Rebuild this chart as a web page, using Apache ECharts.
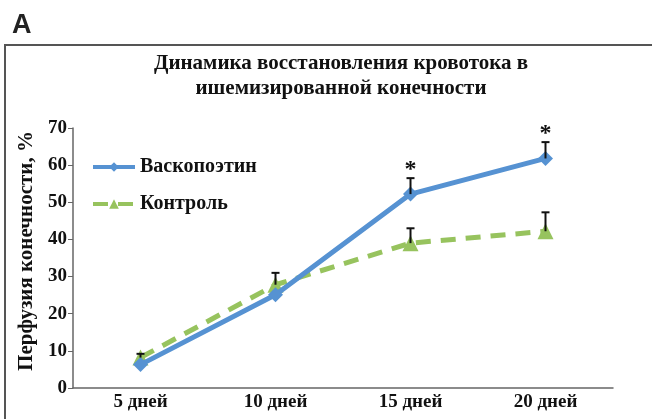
<!DOCTYPE html>
<html>
<head>
<meta charset="utf-8">
<script src="https://cdn.jsdelivr.net/npm/echarts@6/dist/echarts.min.js"></script>
<style>
    html, body { margin: 0; padding: 0; background: #fff; }
    #chart { width: 652px; height: 419px; }
</style>
</head>
<body>
<div id="chart"></div>
<script>
    const categories = ['5 дней', '10 дней', '15 дней', '20 дней'];
    const vasco = [6.3, 25.1, 52.2, 61.8];
    const control = [8.2, 27.8, 39.0, 42.2];
    // upper error only (0 = not drawn)
    const vascoErr = [0, 0, 4.3, 4.4];
    const controlErr = [1.0, 3.2, 4.0, 5.1];
    const vascoSig = [false, false, true, true];

    const SERIF = '"Liberation Serif", "DejaVu Serif", serif';
    const BLUE = '#5692d2';
    const GREEN = '#97c35e';

    // error bars as custom series: [index, value, err, star]
    function errData(vals, errs, sig) {
        return vals.map(function(v, i) {
            return [i, v, errs[i], sig && sig[i] ? 1 : 0];
        });
    }

    function renderErr(params, api) {
        const err = api.value(2);
        if (!err) return;
        const base = api.coord([api.value(0), api.value(1)]);
        const top = api.coord([api.value(0), api.value(1) + err]);
        const children = [
            {
                type: 'line',
                shape: { x1: base[0], y1: base[1], x2: top[0], y2: top[1] },
                style: { stroke: '#111', lineWidth: 2 }
            },
            {
                type: 'line',
                shape: { x1: top[0] - 4, y1: top[1], x2: top[0] + 4, y2: top[1] },
                style: { stroke: '#111', lineWidth: 2 }
            }
        ];
        if (api.value(3)) {
            children.push({
                type: 'text',
                style: {
                    text: '*', x: top[0], y: top[1] - 8,
                    textAlign: 'center', textVerticalAlign: 'middle',
                    font: 'bold 24px ' + SERIF, fill: '#111'
                }
            });
        }
        return { type: 'group', children: children };
    }

    const option = {
        animation: false,
        graphic: [
            {
                type: 'rect', silent: true,
                shape: { x: 5, y: 45, width: 680, height: 420 },
                style: { fill: 'none', stroke: '#555', lineWidth: 2 }
            },
            {
                type: 'text', left: 12, top: 12,
                style: { text: 'A', font: 'bold 27px "Liberation Sans", Arial, sans-serif', fill: '#222' }
            },
            {
                type: 'text', x: 341, y: 51,
                style: {
                    text: 'Динамика восстановления кровотока в\nишемизированной конечности',
                    textAlign: 'center', font: 'bold 21px ' + SERIF, lineHeight: 25, fill: '#111'
                }
            }
        ],
        grid: { left: 73, right: 39, top: 128, bottom: 31 },
        legend: {
            orient: 'vertical', left: 86, top: 152, itemGap: 17,
            itemWidth: 42, itemHeight: 12,
            lineStyle: { width: 4 },
            data: ['Васкопоэтин', 'Контроль'],
            textStyle: { fontFamily: SERIF, fontWeight: 'bold', fontSize: 20, color: '#111' }
        },
        xAxis: {
            type: 'category', data: categories,
            axisLine: { lineStyle: { color: '#666', width: 1.5 } },
            axisTick: { length: 5, lineStyle: { color: '#666' } },
            axisLabel: { fontFamily: SERIF, fontWeight: 'bold', fontSize: 19, color: '#111', margin: 5 }
        },
        yAxis: {
            type: 'value', min: 0, max: 70, interval: 10,
            name: 'Перфузия конечности, %', nameLocation: 'middle', nameRotate: 90, nameGap: 35,
            nameTextStyle: { fontFamily: SERIF, fontWeight: 'bold', fontSize: 21, color: '#111', padding: [0, 0, 0, 14] },
            splitLine: { show: false },
            axisLine: { show: true, lineStyle: { color: '#666', width: 1.5 } },
            axisTick: { show: true, length: 5, lineStyle: { color: '#666' } },
            axisLabel: { fontFamily: SERIF, fontWeight: 'bold', fontSize: 19, color: '#111', margin: 6 }
        },
        series: [
            {
                name: 'Контроль', type: 'line', data: control,
                symbol: 'triangle', symbolSize: 16,
                lineStyle: { color: GREEN, width: 5, type: [15, 10] },
                itemStyle: { color: GREEN }, z: 2
            },
            {
                name: 'Васкопоэтин', type: 'line', data: vasco,
                symbol: 'diamond', symbolSize: 15,
                lineStyle: { color: BLUE, width: 5 },
                itemStyle: { color: BLUE }, z: 3
            },
            {
                type: 'custom', data: errData(control, controlErr), renderItem: renderErr,
                silent: true, z: 4
            },
            {
                type: 'custom', data: errData(vasco, vascoErr, vascoSig), renderItem: renderErr,
                silent: true, z: 4
            }
        ]
    };

    const chart = echarts.init(document.getElementById('chart'));
    chart.setOption(option);
</script>
</body>
</html>
